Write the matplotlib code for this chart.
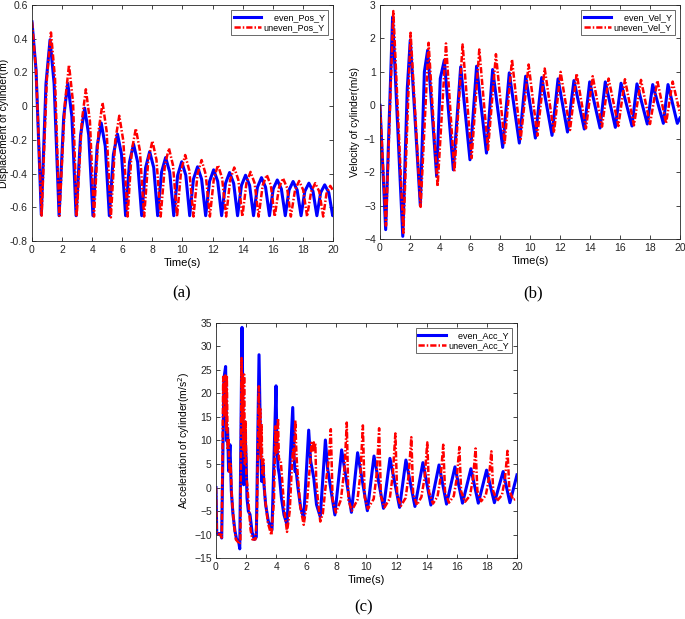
import matplotlib
matplotlib.use("Agg")
import matplotlib.pyplot as plt

# (a) displacement (troughs, shoulders, peaks)
t_pos_even = [0, 0.27,
              0.62, 0.93, 1.2, 1.47, 1.8, 2.11, 2.38, 2.65, 2.93, 3.23, 3.5, 3.77,
              4.05, 4.33, 4.6, 4.87, 5.14, 5.41, 5.68, 5.95, 6.22, 6.48, 6.75, 7.02,
              7.29, 7.55, 7.82, 8.09, 8.35, 8.61, 8.88, 9.15, 9.42, 9.68, 9.95, 10.22,
              10.48, 10.73, 11.0, 11.27, 11.54, 11.8, 12.07, 12.34, 12.6, 12.86, 13.13, 13.4,
              13.66, 13.92, 14.19, 14.46, 14.72, 14.98, 15.25, 15.52, 15.78, 16.03, 16.3, 16.57,
              16.83, 17.08, 17.35, 17.62, 17.88, 18.13, 18.4, 18.67, 18.93, 19.18, 19.45, 19.72,
              19.98, 20]
pos_even = [0.5, 0.214,
            -0.645, 0.133, 0.394, 0.133, -0.65, -0.061, 0.135, -0.061, -0.65, -0.172, -0.012, -0.172,
            -0.65, -0.238, -0.10, -0.238, -0.65, -0.287, -0.166, -0.287, -0.65, -0.332, -0.226, -0.332,
            -0.65, -0.365, -0.27, -0.365, -0.65, -0.391, -0.305, -0.391, -0.65, -0.41, -0.33, -0.41,
            -0.65, -0.433, -0.36, -0.433, -0.65, -0.446, -0.378, -0.446, -0.65, -0.458, -0.394, -0.458,
            -0.65, -0.47, -0.41, -0.47, -0.65, -0.481, -0.424, -0.481, -0.65, -0.491, -0.438, -0.491,
            -0.65, -0.498, -0.447, -0.498, -0.65, -0.505, -0.457, -0.505, -0.65, -0.513, -0.467, -0.513,
            -0.65, -0.645]
t_pos_uneven = [0, 0.27,
                0.64, 0.99, 1.26, 1.53, 1.82, 2.19, 2.46, 2.73, 2.97, 3.31, 3.58, 3.85,
                4.12, 4.42, 4.69, 4.96, 5.24, 5.53, 5.8, 6.07, 6.35, 6.63, 6.9, 7.17,
                7.45, 7.73, 8.0, 8.27, 8.55, 8.83, 9.1, 9.37, 9.64, 9.91, 10.18, 10.45,
                10.73, 11.0, 11.27, 11.54, 11.82, 12.09, 12.36, 12.63, 12.9, 13.17, 13.44, 13.71,
                13.98, 14.25, 14.52, 14.79, 15.06, 15.33, 15.6, 15.87, 16.13, 16.41, 16.68, 16.95,
                17.2, 17.48, 17.75, 18.02, 18.28, 18.55, 18.82, 19.09, 19.35, 19.57, 19.82, 20]
pos_uneven = [0.5, 0.21,
              -0.65, 0.164, 0.437, 0.164, -0.65, 0.02, 0.245, 0.02, -0.655, -0.089, 0.10, -0.089,
              -0.655, -0.149, 0.02, -0.149, -0.66, -0.207, -0.057, -0.207, -0.655, -0.264, -0.133, -0.264,
              -0.655, -0.318, -0.206, -0.318, -0.655, -0.351, -0.25, -0.351, -0.655, -0.381, -0.29, -0.381,
              -0.655, -0.404, -0.32, -0.404, -0.655, -0.426, -0.35, -0.426, -0.655, -0.437, -0.364, -0.437,
              -0.655, -0.456, -0.39, -0.456, -0.655, -0.47, -0.408, -0.47, -0.655, -0.485, -0.428, -0.485,
              -0.655, -0.497, -0.444, -0.497, -0.655, -0.507, -0.457, -0.507, -0.655, -0.518, -0.473, -0.50]

# (b) velocity
t_vel_even = [0, 0.38, 0.84, 1.52, 1.82, 2.02, 2.69, 2.96, 3.18, 3.78, 4.02, 4.29, 4.89, 5.38,
              6.0, 6.44, 7.1, 7.51, 8.18, 8.62, 9.29, 9.71, 10.36, 10.78, 11.47, 11.87, 12.5,
              12.93, 13.62, 13.98, 14.67, 15.02, 15.69, 16.07, 16.8, 17.13, 17.82, 18.18, 18.89,
              19.2, 19.82, 20]
vel_even = [0, -3.72, 2.64, -3.92, 0.5, 1.95, -3.0, 1.0, 1.65, -2.13, 0.8, 1.35, -1.93, 1.15,
            -1.63, 1.17, -1.43, 1.07, -1.26, 0.97, -1.13, 0.87, -0.98, 0.83, -0.9, 0.79, -0.8,
            0.74, -0.71, 0.70, -0.68, 0.70, -0.66, 0.66, -0.62, 0.64, -0.56, 0.62, -0.54, 0.62,
            -0.54, -0.38]
t_vel_uneven = [0, 0.4, 0.89, 1.56, 2.04, 2.71, 3.24, 3.84, 4.4, 4.96, 5.51, 6.11, 6.62, 7.2,
                7.73, 8.31, 8.8, 9.38, 9.91, 10.49, 10.98, 11.6, 12.04, 12.67, 13.11, 13.73,
                14.18, 14.8, 15.24, 15.89, 16.33, 16.93, 17.4, 18.0, 18.49, 19.07, 19.51, 20]
vel_uneven = [0, -3.6, 2.82, -3.82, 2.17, -3.04, 1.87, -2.43, 1.85, -1.98, 1.82, -1.58, 1.67,
              -1.33, 1.53, -1.13, 1.37, -1.01, 1.22, -0.91, 1.1, -0.82, 1.0, -0.74, 0.95, -0.69,
              0.87, -0.64, 0.8, -0.62, 0.78, -0.6, 0.76, -0.56, 0.74, -0.54, 0.71, -0.24]

# (c) acceleration
t_acc_even = [0, 0.05, 0.3, 0.38, 0.53, 0.64, 0.71, 0.77, 0.84, 0.93, 1.02, 1.13, 1.26, 1.37,
              1.5, 1.58, 1.73, 1.8, 1.84, 1.93, 2.0, 2.06, 2.15, 2.26, 2.4, 2.55, 2.68, 2.86,
              2.97, 3.04, 3.12, 3.19, 3.3, 3.48, 3.72, 3.99, 4.05, 4.13, 4.21, 4.35, 4.52, 4.72,
              5.1, 5.18, 5.25, 5.32, 5.45, 5.63, 5.83, 6.16, 6.29, 6.4, 6.5, 6.68, 6.93, 7.27,
              7.42, 7.9, 8.35, 9.0, 9.41, 10.06, 10.5, 11.13, 11.56, 12.2, 12.62, 13.22, 13.75,
              14.28, 14.82, 15.32, 15.88, 16.38, 16.94, 17.43, 17.98, 18.5, 19.08, 19.53, 20]
acc_even = [0, -9.7, -9.8, -10.7, 23.2, 25.7, 9.9, 12.6, 3.5, 9.1, -0.7, -5.7, -9.2, -11.0,
            -11.3, -13.0, 34.0, 14.8, 0.6, 11.9, 6.3, -2.2, -5.0, -5.7, -9.5, -11.0, -10.5, 28.2,
            7.7, 1.3, 4.9, 0.6, -3.6, -7.2, -9.0, 21.6, 9.1, 4.2, 2.7, -2.2, -5.8, -7.9,
            17.0, 7.0, 3.4, 3.8, -0.1, -4.3, -6.5, 12.2, 5.6, 3.8, 2.0, -3.6, -6.2, 10.1,
            4.0, -5.8, 8.0, -5.25, 7.4, -4.9, 6.7, -4.4, 6.2, -4.2, 5.85, -4.0, 5.3,
            -3.7, 4.8, -3.5, 4.4, -3.3, 4.0, -3.3, 3.7, -3.2, 3.4, -3.2, 2.7]
t_acc_uneven = [0, 0.05, 0.3, 0.38, 0.48, 0.55, 0.62, 0.68, 0.72, 0.78, 0.83, 0.9, 0.97, 1.05,
                1.2, 1.32, 1.45, 1.55, 1.62, 1.7, 1.74, 1.78, 1.82, 1.87, 1.92, 1.97, 2.02, 2.08,
                2.18, 2.3, 2.42, 2.62, 2.72, 2.85, 2.9, 2.94, 2.98, 3.03, 3.08, 3.14, 3.25, 3.45,
                3.68, 3.85, 3.95, 3.99, 4.03, 4.07, 4.12, 4.18, 4.3, 4.4, 4.55, 4.72, 4.9, 5.05,
                5.12, 5.18, 5.27, 5.35, 5.46, 5.6, 5.83, 6.05, 6.25, 6.35, 6.42, 6.5, 6.55, 6.6,
                6.66, 6.78, 6.93, 7.1, 7.35, 7.5, 7.63, 7.75, 7.97, 8.3, 8.55, 8.69, 8.8, 9.02,
                9.4, 9.6, 9.76, 9.88, 10.1, 10.48, 10.68, 10.84, 10.96, 11.2, 11.55, 11.75, 11.92,
                12.04, 12.28, 12.6, 12.8, 12.98, 13.1, 13.35, 13.65, 13.87, 14.04, 14.16, 14.42,
                14.72, 14.93, 15.1, 15.22, 15.48, 15.8, 16.0, 16.17, 16.29, 16.55, 16.88, 17.08,
                17.25, 17.37, 17.62, 17.93, 18.13, 18.3, 18.42, 18.68, 19.0, 19.2, 19.37, 19.5,
                19.75, 20]
acc_uneven = [0, -9.7, -10.0, -10.6, 23.5, 15, 23.8, 12, 23.8, 8, 10.5, 3, 5, -2,
              -8, -11, -11.5, -12, -11.5, 27.5, 14, 24, 8, 24, 5, 14, 2, 0.5,
              -4, -9, -11, -11, -6, 21.5, 9, 17, 6, 13.5, 3, 6, -2, -7.5,
              -10.1, -3, 13, 7, 12, 8, 14.7, 6, 5.9, 1.6, -5, -9.4, -5, 5,
              8, 6, 14.3, 6.6, 1.6, -4, -7.9, -3, 5, 9.5, 7.5, 9.6, 8, 9.4,
              1.6, -3, -7.2, -5.5, 2.3, 6, 12.4, -2.6, -5.3, -2.6, 4.4, 13.8, -2.6, -4.9,
              -2.6, 3.0, 13.2, -2.0, -4.5, -2.4, 3.0, 12.6, -1.8, -4.2, -2.3, 2.8, 11.5,
              -1.5, -3.9, -2.2, 2.5, 10.7, -1.2, -3.7, -2.0, 2.3, 9.6, -1.0, -3.4,
              -1.9, 2.2, 9.1, -0.8, -3.2, -1.8, 2.0, 8.6, -0.8, -3.0, -1.7, 2.0,
              8.3, -0.7, -2.9, -1.6, 1.8, 7.7, -0.7, -2.8, -1.6, 1.8, 7.8, -0.7,
              -2.6, -2.3]

plt.rcParams['font.family'] = ['Liberation Sans', 'DejaVu Sans']
plt.rcParams['font.size'] = 7.5

fig = plt.figure(figsize=(6.85, 6.19), dpi=100)


def style(ax, ylabel, ylim, yticks, ylab_x):
    ax.set_xlim(0, 20)
    ax.set_xticks(range(0, 21, 2))
    ax.set_ylim(*ylim)
    ax.set_yticks(yticks)
    ax.tick_params(direction='in', top=True, right=True, length=3, width=0.6,
                   labelsize=7.5, colors='#262626', pad=3)
    for s in ax.spines.values():
        s.set_linewidth(0.6)
        s.set_color('#262626')
    ax.set_xlabel('Time(s)', fontsize=8, labelpad=2)
    ax.set_ylabel(ylabel, fontsize=7.5)
    ax.yaxis.set_label_coords(ylab_x, 0.5)


def draw(ax, t1, y1, t2, y2, names):
    ax.plot(t1, y1, color='blue', lw=2.2, label=names[0],
            solid_joinstyle='round')
    ax.plot(t2, y2, color='red', lw=1.8, ls=(0, (2.5, 0.8, 0.6, 0.8)), label=names[1],
            dash_joinstyle='round')
    leg = ax.legend(loc='upper right', fontsize=6.5, frameon=True, fancybox=False,
                    edgecolor='#262626', handlelength=3.0, borderpad=0.3,
                    labelspacing=0.15, handletextpad=0.3, borderaxespad=0.6)
    leg.get_frame().set_linewidth(0.6)


ax1 = fig.add_axes([0.0467, 0.6107, 0.4394, 0.3812])
draw(ax1, t_pos_even, pos_even, t_pos_uneven, pos_uneven,
     ['    even_Pos_Y', 'uneven_Pos_Y'])
style(ax1, 'Displacement of cylinder(m)', (-0.8, 0.6),
      [-0.8, -0.6, -0.4, -0.2, 0, 0.2, 0.4, 0.6], -0.075)
ax1.set_yticklabels(['-0.8', '-0.6', '-0.4', '-0.2', '0', '0.2', '0.4', '0.6'])

ax2 = fig.add_axes([0.5547, 0.6139, 0.438, 0.378])
draw(ax2, t_vel_even, vel_even, t_vel_uneven, vel_uneven,
     ['    even_Vel_Y', 'uneven_Vel_Y'])
style(ax2, 'Velocity of cylinder(m/s)', (-4, 3), range(-4, 4), -0.068)

ax3 = fig.add_axes([0.3153, 0.0981, 0.4394, 0.3806])
draw(ax3, t_acc_even, acc_even, t_acc_uneven, acc_uneven,
     ['    even_Acc_Y', 'uneven_Acc_Y'])
style(ax3, 'Acceleration of cylinder(m/s$^2$)', (-15, 35), range(-15, 36, 5), -0.08)

for x, y, s in [(182, 293, '(a)'), (533, 293, '(b)'), (364, 607, '(c)')]:
    fig.text(x / 685, 1 - y / 619, s, ha='center', va='center', fontsize=12,
             family=['Liberation Serif', 'DejaVu Serif'])

fig.savefig('out.png', dpi=100)
